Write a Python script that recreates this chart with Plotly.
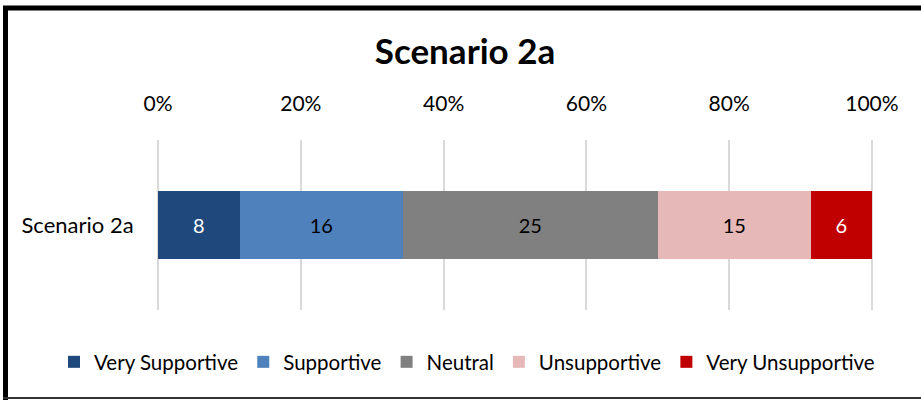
import plotly.graph_objects as go

categories = ["Scenario 2a"]
series_names = ["Very Supportive", "Supportive", "Neutral", "Unsupportive", "Very Unsupportive"]
series_values = [8, 16, 25, 15, 6]
colors = ["#1F497D", "#4F81BD", "#808080", "#E6B9B8", "#C00000"]
label_colors = ["white", "black", "black", "black", "white"]
tick_vals = [0, 20, 40, 60, 80, 100]
tick_text = ["0%", "20%", "40%", "60%", "80%", "100%"]

total = sum(series_values)
FONT = "Lato, Open Sans, sans-serif"

fig = go.Figure()
for name, val, col, lc in zip(series_names, series_values, colors, label_colors):
    fig.add_trace(go.Bar(
        y=categories, x=[val / total * 100], orientation="h", name=name,
        marker=dict(color=col, line=dict(width=0)),
        text=[str(val)], textposition="inside", insidetextanchor="middle",
        textfont=dict(color=lc, size=20, family=FONT),
        hoverinfo="skip",
    ))

W, H = 921, 400
L, R, T, B = 157, 48, 140, 90
pw, ph = W - L - R, H - T - B

def px_x(p):
    return (p - L) / pw

def px_y(p):
    return (H - B - p) / ph

shapes = [
    dict(type="line", xref="paper", yref="paper", x0=px_x(3), x1=px_x(925), y0=px_y(8), y1=px_y(8),
         line=dict(color="black", width=5)),
    dict(type="line", xref="paper", yref="paper", x0=px_x(5.5), x1=px_x(5.5), y0=px_y(6), y1=px_y(400),
         line=dict(color="black", width=5)),
    dict(type="line", xref="paper", yref="paper", x0=px_x(3), x1=px_x(925), y0=px_y(398), y1=px_y(398),
         line=dict(color="#333333", width=2)),
]

fig.update_layout(
    width=W, height=H,
    margin=dict(l=L, r=R, t=T, b=B),
    barmode="stack", bargap=0.595,
    paper_bgcolor="white", plot_bgcolor="white",
    font=dict(family=FONT, size=20, color="black"),
    title=dict(text="<b>Scenario 2a</b>", x=465 / W, xanchor="center", y=1 - 52 / H, yanchor="middle",
               font=dict(size=35, family=FONT, color="black")),
    xaxis=dict(side="top", range=[-0.15, 100.15], tickvals=tick_vals, ticktext=tick_text,
               showgrid=True, gridcolor="#D9D9D9", gridwidth=2, zeroline=False,
               showline=False, ticks="outside", ticklen=20, tickcolor="rgba(0,0,0,0)",
               tickfont=dict(size=21, family=FONT, color="black"), fixedrange=True),
    yaxis=dict(showgrid=False, zeroline=False, showline=False, ticks="outside", ticklen=18,
               tickcolor="rgba(0,0,0,0)", tickfont=dict(size=22, family=FONT, color="black"),
               fixedrange=True),
    legend=dict(orientation="h", x=px_x(54), xanchor="left", y=px_y(362), yanchor="middle",
                font=dict(size=20.5, family=FONT, color="black"), traceorder="normal",
                itemwidth=30, tracegroupgap=0),
    shapes=shapes,
    showlegend=True,
)

fig.write_html("out.html", config={"displayModeBar": False},
               post_script="document.body.style.margin='0';")
